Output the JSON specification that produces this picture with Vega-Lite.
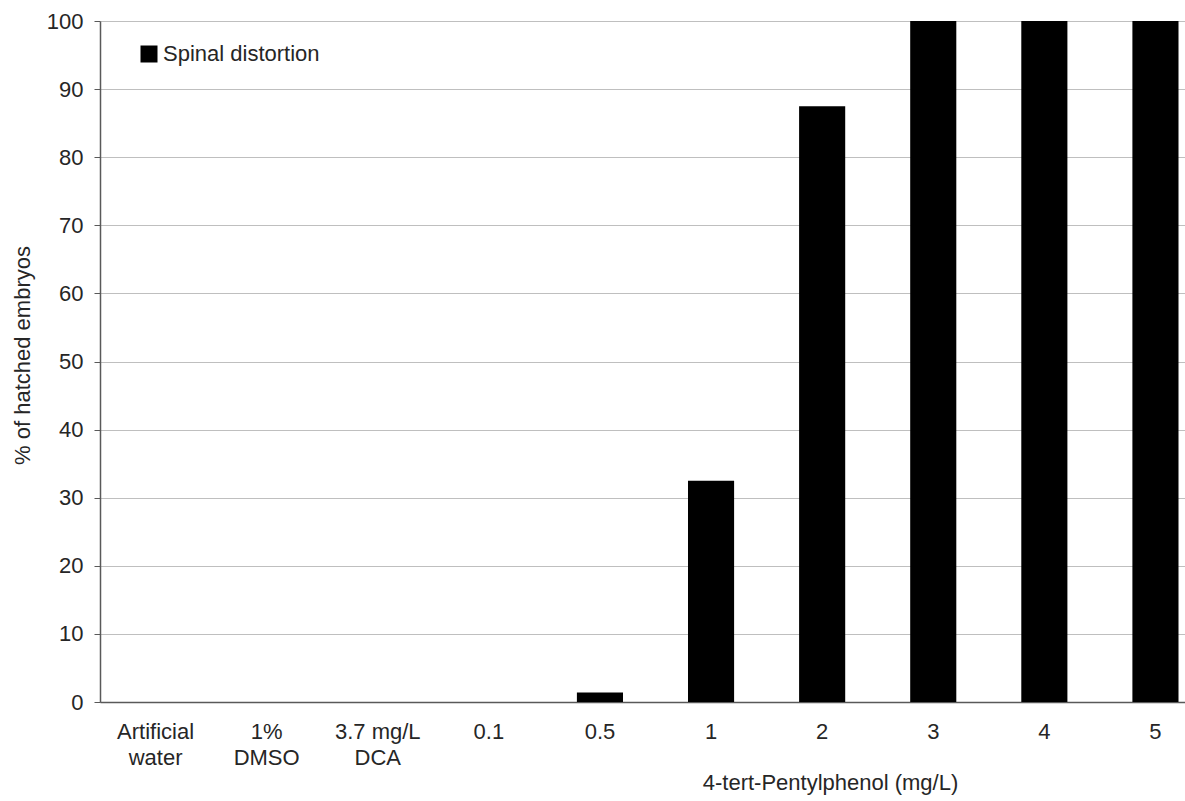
{
  "$schema": "https://vega.github.io/schema/vega-lite/v6.json",
  "autosize": "none",
  "width": 1085,
  "height": 681,
  "padding": {"left": 100, "top": 21, "right": 0, "bottom": 99},
  "background": "white",
  "config": {
    "font": "Liberation Sans",
    "view": {"stroke": null}
  },
  "data": {
    "values": [
      {"treatment": "Artificial|water", "pct": 0, "series": "Spinal distortion"},
      {"treatment": "1%|DMSO", "pct": 0, "series": "Spinal distortion"},
      {"treatment": "3.7 mg/L|DCA", "pct": 0, "series": "Spinal distortion"},
      {"treatment": "0.1", "pct": 0, "series": "Spinal distortion"},
      {"treatment": "0.5", "pct": 1.4, "series": "Spinal distortion"},
      {"treatment": "1", "pct": 32.5, "series": "Spinal distortion"},
      {"treatment": "2", "pct": 87.5, "series": "Spinal distortion"},
      {"treatment": "3", "pct": 100, "series": "Spinal distortion"},
      {"treatment": "4", "pct": 100, "series": "Spinal distortion"},
      {"treatment": "5", "pct": 100, "series": "Spinal distortion"}
    ]
  },
  "mark": {"type": "bar"},
  "encoding": {
    "x": {
      "field": "treatment",
      "type": "nominal",
      "sort": null,
      "scale": {"range": [0, 1111], "paddingInner": 0.585, "paddingOuter": 0.2925},
      "axis": {
        "title": "4-tert-Pentylphenol (mg/L)",
        "titleFont": "Liberation Sans",
        "titleFontSize": 22,
        "titleFontWeight": "normal",
        "titleColor": "#262626",
        "titleAnchor": "start",
        "titleAlign": "center",
        "titleX": 730,
        "titleY": 80,
        "titleBaseline": "middle",
        "labelExpr": "split(datum.label, '|')",
        "labelAngle": 0,
        "labelFont": "Liberation Sans",
        "labelFontSize": 22,
        "labelColor": "#262626",
        "labelPadding": 19,
        "labelLineHeight": 26,
        "labelBaseline": "top",
        "ticks": false,
        "domainColor": "#595959",
        "domainWidth": 1.5,
        "grid": false
      }
    },
    "y": {
      "field": "pct",
      "type": "quantitative",
      "scale": {"domain": [0, 100], "nice": false},
      "axis": {
        "title": "% of hatched embryos",
        "titleFont": "Liberation Sans",
        "titleFontSize": 22,
        "titleFontWeight": "normal",
        "titleColor": "#262626",
        "titlePadding": 12,
        "titleY": 334,
        "values": [0, 10, 20, 30, 40, 50, 60, 70, 80, 90, 100],
        "labelFont": "Liberation Sans",
        "labelFontSize": 22,
        "labelColor": "#262626",
        "labelPadding": 11,
        "tickSize": 6,
        "tickColor": "#595959",
        "domainColor": "#595959",
        "domainWidth": 1.5,
        "grid": true,
        "gridColor": "#bfbfbf",
        "gridWidth": 1
      }
    },
    "color": {
      "field": "series",
      "type": "nominal",
      "scale": {"range": ["#000000"]},
      "legend": {
        "title": null,
        "orient": "none",
        "legendX": 38,
        "legendY": 22,
        "symbolType": "square",
        "symbolSize": 289,
        "symbolStrokeWidth": 0,
        "labelFont": "Liberation Sans",
        "labelFontSize": 22,
        "labelColor": "#262626",
        "labelOffset": 3
      }
    }
  }
}
